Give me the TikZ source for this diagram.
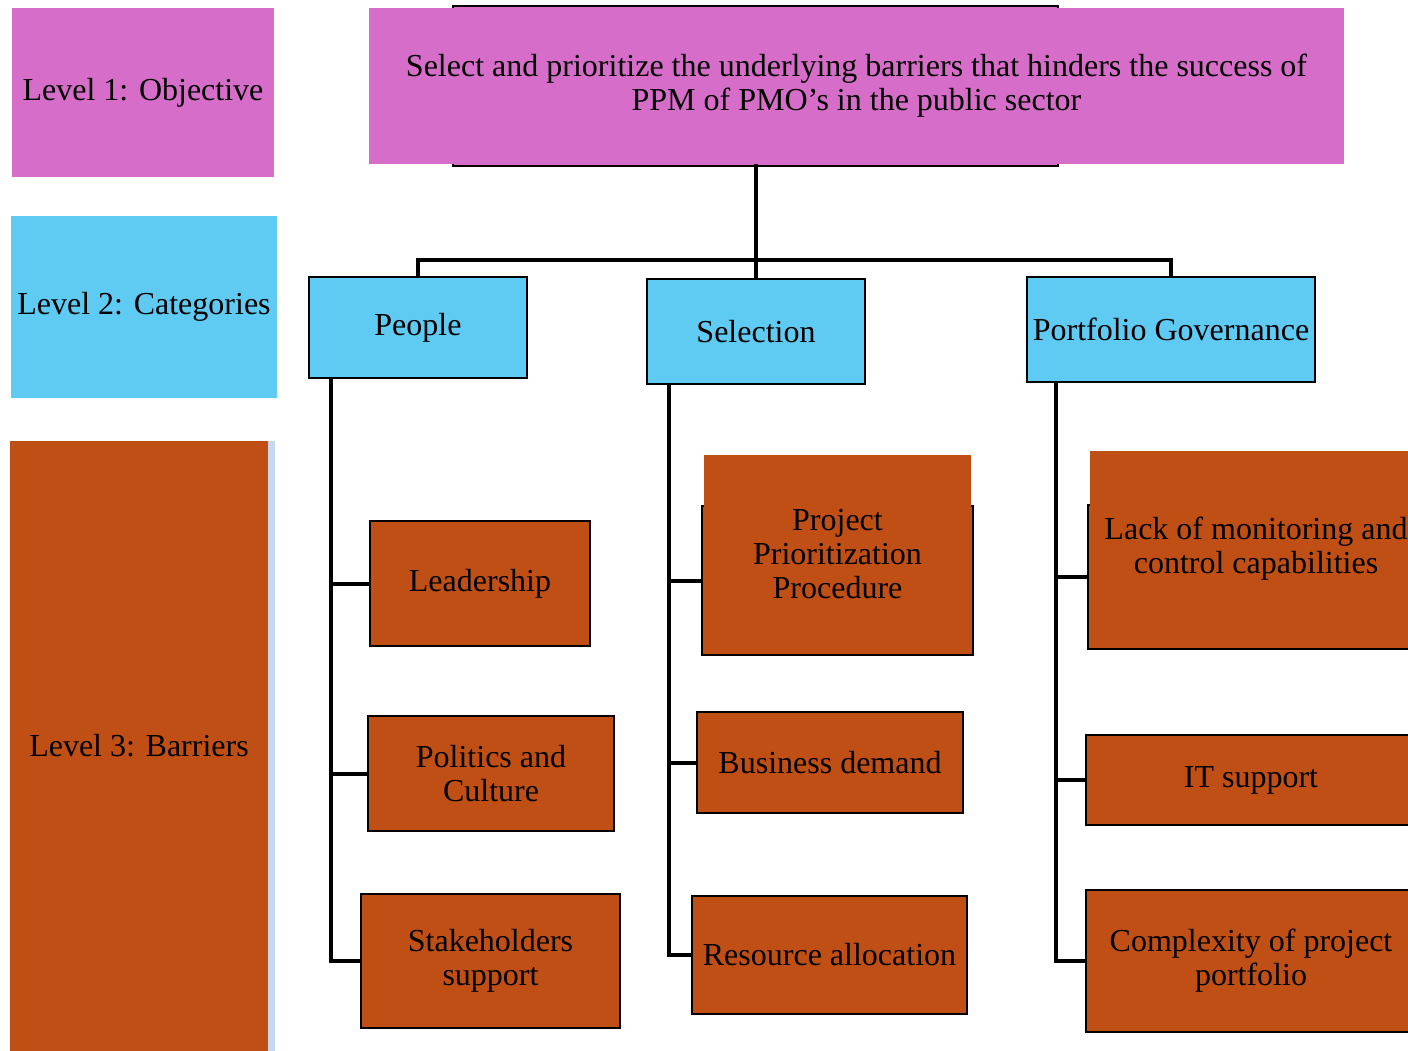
\documentclass[tikz,border=0pt]{standalone}
\usepackage{fontspec}
\setmainfont{Liberation Serif}
\usetikzlibrary{positioning}

\definecolor{objpink}{HTML}{D66DC9}
\definecolor{catblue}{HTML}{5FCAF2}
\definecolor{barorange}{HTML}{BF4F14}
\definecolor{stripblue}{HTML}{C5D8F0}

\tikzset{
  lvl/.style={rectangle, inner sep=0pt, align=center,
    font=\fontsize{32}{34}\selectfont},
  box/.style={lvl, draw, line width=2pt},
  link/.style={line width=4pt},
}

\begin{document}
\begin{tikzpicture}[x=1pt, y=-1pt]

    \useasboundingbox (0,0) rectangle (1408,1051);

    % Level labels
    \node[lvl, fill=objpink, minimum width=262, minimum height=169] (lvlone) at (143,92.5) {Level 1: Objective}; %
    \node[lvl, fill=catblue, minimum width=266, minimum height=182] (lvltwo) at (144,307) {Level 2: Categories}; %
    \fill[stripblue] (268,441) rectangle (275,1051);
    \node[lvl, fill=barorange, minimum width=258, minimum height=610] (lvlthree) at (139,746) {Level 3: Barriers}; %

    % Objective
    \node[box, fill=objpink, minimum width=605, minimum height=160] (objbox) at (755.5,86) {}; %
    \node[lvl, fill=objpink, minimum width=975, minimum height=156] (obj) at (856.5,86)
        {Select and prioritize the underlying barriers that hinders the success of\\PPM of PMO’s in the public sector}; %

    % Categories
    \node[box, fill=catblue, minimum width=218, minimum height=101] (peo) at (418,327.5) {People}; %
    \node[box, fill=catblue, minimum width=218, minimum height=105] (sel) at (756,331.5) {Selection}; %
    \node[box, fill=catblue, minimum width=288, minimum height=105] (gov) at (1171,329.5) {Portfolio Governance}; %

    % Barriers: people
    \node[box, fill=barorange, minimum width=220, minimum height=125] (lead) at (480,583.5) {Leadership}; %
    \node[box, fill=barorange, minimum width=246, minimum height=115] (pol) at (491,773.5) {Politics and\\Culture}; %
    \node[box, fill=barorange, minimum width=259, minimum height=134] (stake) at (490.5,961) {Stakeholders\\support}; %

    % Barriers: selection
    \node[box, fill=barorange, minimum width=271, minimum height=149] (proj) at (837.5,580.5) {}; %
    \node[lvl, fill=barorange, minimum width=267, minimum height=198] (projtxt) at (837.5,554) {Project\\Prioritization\\Procedure}; %
    \node[box, fill=barorange, minimum width=266, minimum height=101] (bus) at (830,762.5) {Business demand}; %
    \node[box, fill=barorange, minimum width=275, minimum height=118] (res) at (829.5,955) {Resource allocation}; %

    % Barriers: governance
    \node[box, fill=barorange, minimum width=336, minimum height=144] (lack) at (1256,577) {}; %
    \node[lvl, fill=barorange, minimum width=332, minimum height=196] (lacktxt) at (1256,549) {Lack of monitoring and\\control capabilities}; %
    \node[box, fill=barorange, minimum width=330, minimum height=90] (its) at (1251,780) {IT support}; %
    \node[box, fill=barorange, minimum width=330, minimum height=142] (cplx) at (1251,961) {Complexity of project\\portfolio}; %

    % Tree
    \coordinate (busline) at (756,260);
    \draw[link] (obj.south -| sel.north) -- (sel.north);
    \draw[link] (peo.north) |- (gov.north |- busline) -- (gov.north);

    \coordinate (pspine) at ([xshift=23pt]peo.south west);
    \coordinate (sspine) at ([xshift=23pt]sel.south west);
    \coordinate (gspine) at ([xshift=30pt]gov.south west);

    \draw[link] (pspine) |- (stake.west);
    \draw[link] (pspine |- lead.west) -- (lead.west);
    \draw[link] (pspine |- pol.west) -- (pol.west);

    \draw[link] (sspine) |- (res.west);
    \draw[link] (sspine |- proj.west) -- (proj.west);
    \draw[link] (sspine |- bus.west) -- (bus.west);

    \draw[link] (gspine) |- (cplx.west);
    \draw[link] (gspine |- lack.west) -- (lack.west);
    \draw[link] (gspine |- its.west) -- (its.west);

\end{tikzpicture}
\end{document}
